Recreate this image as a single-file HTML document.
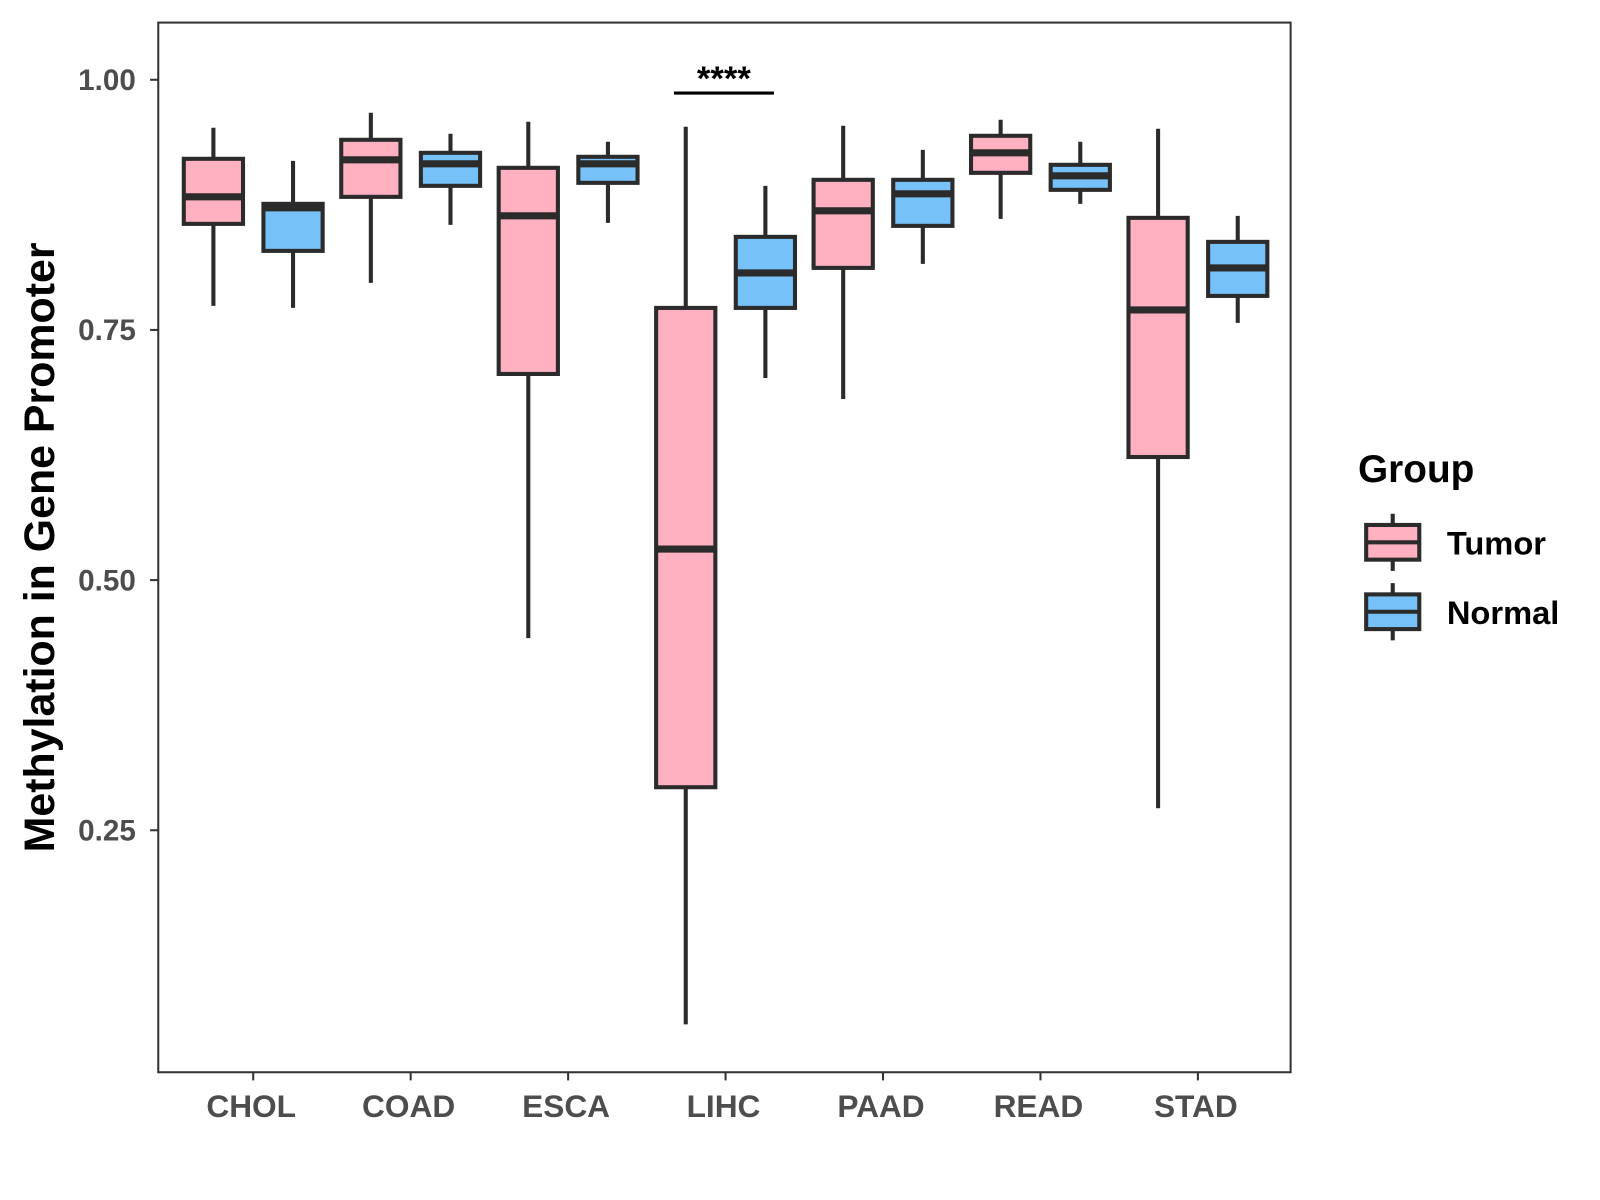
<!DOCTYPE html>
<html><head><meta charset="utf-8"><style>
body{margin:0;background:#fff;}
svg{display:block;font-family:"Liberation Sans",Arial,sans-serif;}
</style></head><body>
<svg id="chart" width="1600" height="1200" viewBox="0 0 1567 1175">
<rect width="1567" height="1175" fill="#fff"/>
<rect x="155" y="22" width="1109" height="1028" fill="none" stroke="#333" stroke-width="2"/>
<g id="yaxis"></g><g id="xaxis"></g><g id="boxes"></g>
<g>
<line x1="660" y1="91" x2="758" y2="91" stroke="#000" stroke-width="3"/>
<text x="709" y="88" text-anchor="middle" font-size="34" font-weight="bold">****</text>
</g>
<text transform="translate(53,536) rotate(-90)" text-anchor="middle" font-size="42" font-weight="bold">Methylation in Gene Promoter</text>
<g>
<text x="1330" y="472" font-size="38" font-weight="bold">Group</text>
<g>
<line x1="1364" y1="503" x2="1364" y2="559" stroke="#2b2b2b" stroke-width="4"/>
<rect x="1338" y="514" width="52" height="34" fill="#FFB0C1" stroke="#2b2b2b" stroke-width="4"/>
<line x1="1338" y1="531" x2="1390" y2="531" stroke="#2b2b2b" stroke-width="4"/>
<text x="1417" y="543" font-size="32" font-weight="bold">Tumor</text></g>
<g>
<line x1="1364" y1="571" x2="1364" y2="627" stroke="#2b2b2b" stroke-width="4"/>
<rect x="1338" y="582" width="52" height="34" fill="#76C1F7" stroke="#2b2b2b" stroke-width="4"/>
<line x1="1338" y1="599" x2="1390" y2="599" stroke="#2b2b2b" stroke-width="4"/>
<text x="1417" y="611" font-size="32" font-weight="bold">Normal</text></g>
</g>
</svg>
<script>
const categories=["CHOL","COAD","ESCA","LIHC","PAAD","READ","STAD"];
const tumorStats=[[0.774,0.856,0.883,0.921,0.952],[0.797,0.883,0.920,0.940,0.967],[0.442,0.706,0.864,0.912,0.958],[0.056,0.293,0.531,0.772,0.953],[0.681,0.812,0.869,0.900,0.954],[0.861,0.907,0.927,0.944,0.960],[0.272,0.623,0.770,0.862,0.951]];
const normalStats=[[0.772,0.829,0.872,0.876,0.919],[0.855,0.894,0.916,0.927,0.946],[0.857,0.897,0.916,0.923,0.938],[0.702,0.772,0.807,0.843,0.894],[0.816,0.854,0.886,0.900,0.930],[0.876,0.890,0.904,0.915,0.938],[0.757,0.784,0.812,0.838,0.864]];
const yTicks=[0.25,0.5,0.75,1.0];
const yTickLabels=["0.25","0.50","0.75","1.00"];
const NS="http://www.w3.org/2000/svg";
function y(v){return 78+(1-v)*980;}
function x(i){return 248+154.2*i;}
function mk(t,a,p){const e=document.createElementNS(NS,t);for(const k in a)e.setAttribute(k,a[k]);p.appendChild(e);return e;}
const ya=document.getElementById('yaxis'),xa=document.getElementById('xaxis'),bx=document.getElementById('boxes');
yTicks.forEach((v,i)=>{
 const l=mk('line',{x1:147,x2:155,y1:y(v),y2:y(v),stroke:'#333','stroke-width':2},ya);
 
 
 const t=mk('text',{x:133,y:y(v)+10,'text-anchor':'end','font-size':29,'font-weight':'bold',fill:'#4d4d4d'},ya);
 t.textContent=yTickLabels[i];
 
 
});
categories.forEach((c,i)=>{
 const l=mk('line',{x1:x(i),x2:x(i),y1:1050,y2:1058,stroke:'#333','stroke-width':2},xa);
 
 
 const t=mk('text',{x:x(i)-2,y:1094,'text-anchor':'middle','font-size':31,'font-weight':'bold',fill:'#4d4d4d'},xa);
 t.textContent=c;
 
 
 [[tumorStats[i],-39,'#FFB0C1','tumor'],[normalStats[i],39,'#76C1F7','normal']].forEach(([s,off,col,nm])=>{
  const g=mk('g',{},bx);
  
  
  const cx=x(i)+off,w=58;
  mk('line',{x1:cx,x2:cx,y1:y(s[4]),y2:y(s[0]),stroke:'#2b2b2b','stroke-width':4},g);
  mk('rect',{x:cx-w/2,y:y(s[3]),width:w,height:y(s[1])-y(s[3]),fill:col,stroke:'#2b2b2b','stroke-width':4},g);
  mk('line',{x1:cx-w/2,x2:cx+w/2,y1:y(s[2]),y2:y(s[2]),stroke:'#2b2b2b','stroke-width':7},g);
 });
});
</script>
</body></html>
